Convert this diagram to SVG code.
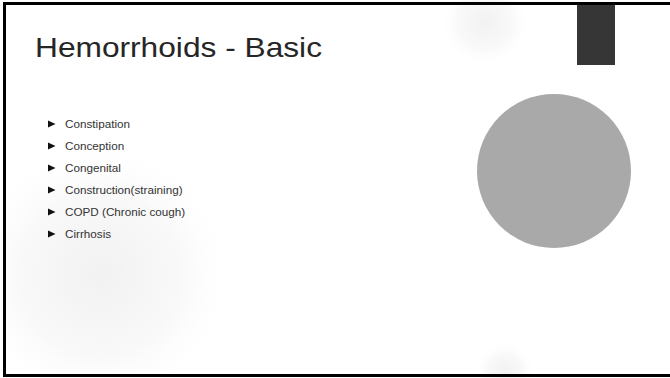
<svg xmlns="http://www.w3.org/2000/svg" width="670" height="378" viewBox="0 0 670 378">
<defs>
<radialGradient id="shade">
<stop offset="0" stop-color="#f1f1f1"/>
<stop offset="0.6" stop-color="#f6f6f6" stop-opacity="0.7"/>
<stop offset="1" stop-color="#ffffff" stop-opacity="0"/>
</radialGradient>
<style>
.title{font-family:"Liberation Sans",Arial,sans-serif;font-size:28px;fill:#262626}
.item{font-family:"Liberation Sans",Arial,sans-serif;font-size:11.7px;fill:#333}
.tri{fill:#111}
</style>
</defs>
<rect x="0" y="0" width="670" height="378" fill="#fff"/>
<g id="background">
<circle cx="100" cy="275" r="135" fill="url(#shade)"/>
<circle cx="485" cy="22" r="45" fill="url(#shade)"/>
<circle cx="505" cy="372" r="30" fill="url(#shade)"/>
<rect x="577" y="3" width="38" height="62" fill="#363636"/>
<circle cx="554" cy="171" r="77" fill="#a9a9a9"/>
<rect x="4.5" y="3.5" width="700" height="372" fill="none" stroke="#000" stroke-width="3"/>
</g>
<g id="title">
<text class="title" x="35" y="57" textLength="287" lengthAdjust="spacingAndGlyphs">Hemorrhoids - Basic</text>
</g>
<g id="list">
<g id="item1"><path class="tri" d="M48 120.5 L55.5 124 L48 127.5 Z"/><text class="item" x="65" y="128">Constipation</text></g>
<g id="item2"><path class="tri" d="M48 142.5 L55.5 146 L48 149.5 Z"/><text class="item" x="65" y="150">Conception</text></g>
<g id="item3"><path class="tri" d="M48 164.5 L55.5 168 L48 171.5 Z"/><text class="item" x="65" y="172">Congenital</text></g>
<g id="item4"><path class="tri" d="M48 186.5 L55.5 190 L48 193.5 Z"/><text class="item" x="65" y="194">Construction(straining)</text></g>
<g id="item5"><path class="tri" d="M48 208.5 L55.5 212 L48 215.5 Z"/><text class="item" x="65" y="216">COPD (Chronic cough)</text></g>
<g id="item6"><path class="tri" d="M48 230.5 L55.5 234 L48 237.5 Z"/><text class="item" x="65" y="238">Cirrhosis</text></g>
</g>
<g id="connectors"/>
</svg>
